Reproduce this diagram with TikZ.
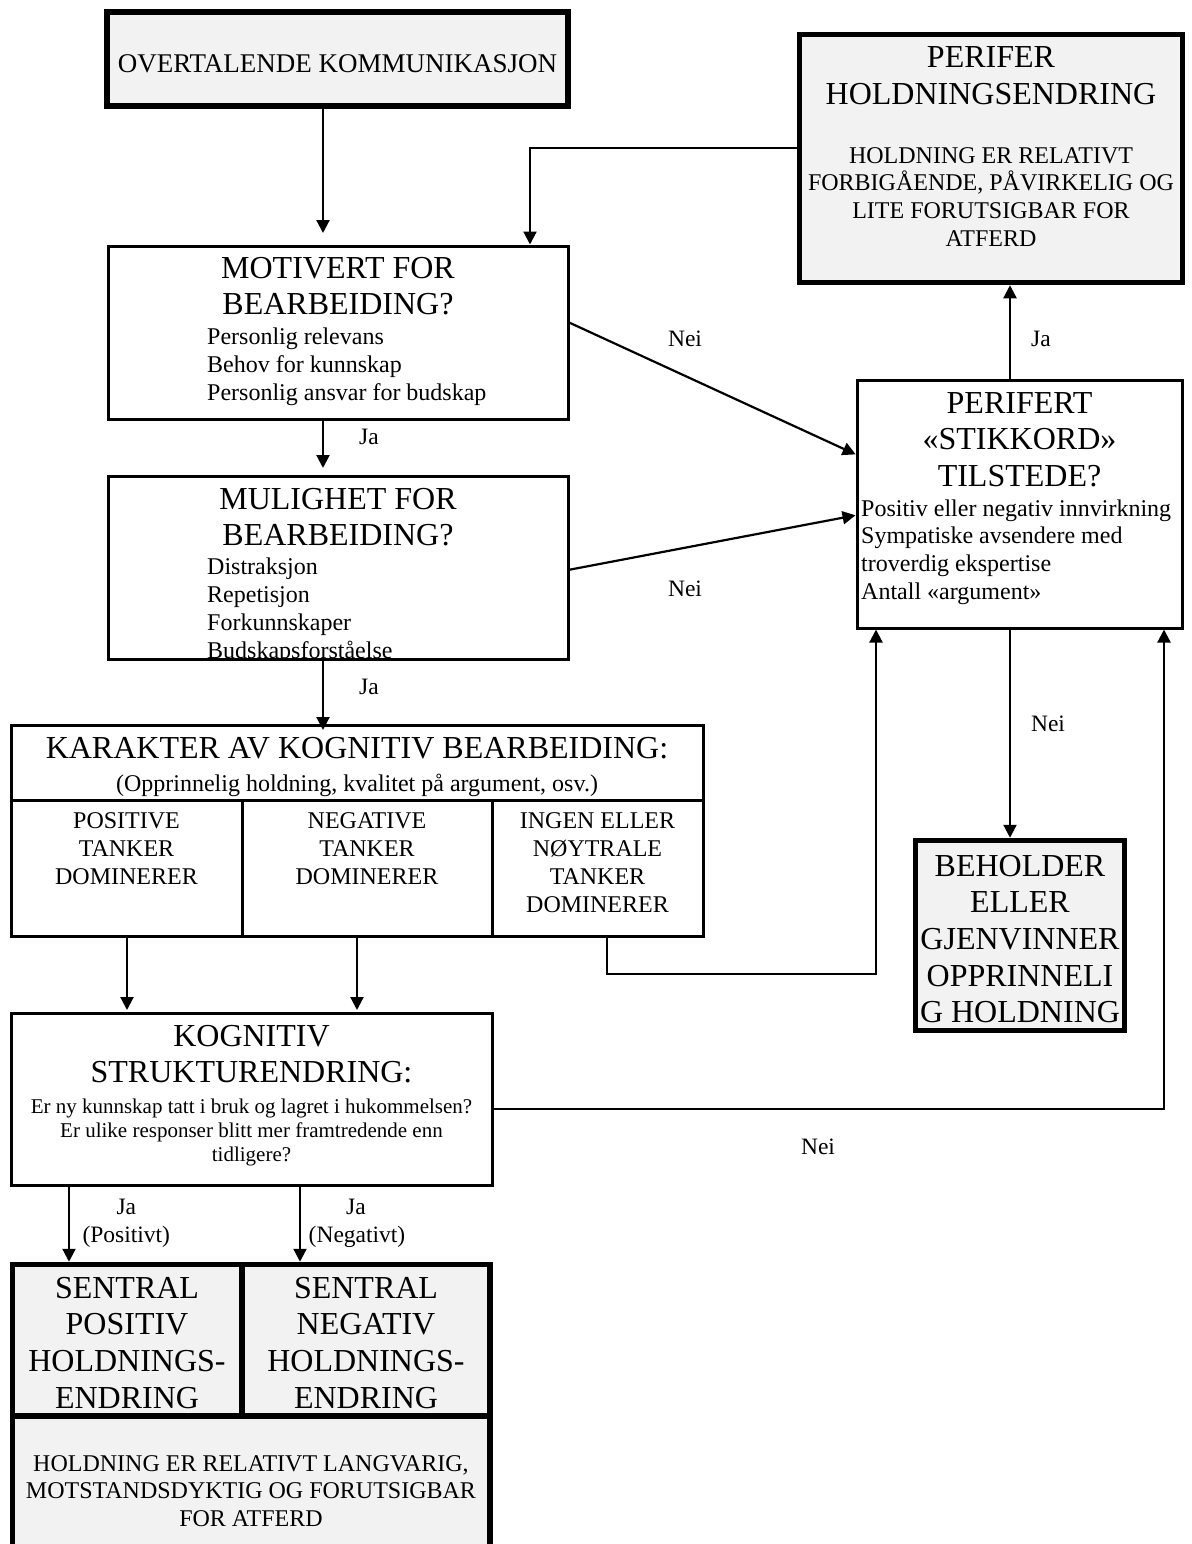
\documentclass[tikz,border=0pt]{standalone}
\usepackage{fontspec}
\setmainfont{Liberation Serif}
\usetikzlibrary{arrows.meta}
\definecolor{boxgray}{HTML}{F2F2F2}
\newcommand\textlines[6]{%
  \foreach \tl [count=\ii] in {#6} {\node[#5] (#1\ii) at (#2, {#3+(\ii-1)*#4}) {\tl};}}
\begin{document}
\begin{tikzpicture}[x=1pt,y=-1pt,
  thinbox/.style={draw, line width=3pt, inner sep=0pt, outer sep=0pt, anchor=north west},
  thickbox/.style={draw, line width=5.5pt, fill=boxgray, inner sep=0pt, outer sep=0pt, anchor=north west},
  arr/.style={line width=2.2pt, -{Triangle[length=13pt,width=13pt]}},
  con/.style={line width=2.2pt},
  divl/.style={line width=3pt},
  divt/.style={line width=5.5pt},
  bigc/.style={font=\fontsize{32}{36}\selectfont, inner sep=0pt, anchor=base},
  medc/.style={font=\fontsize{24}{28}\selectfont, inner sep=0pt, anchor=base},
  medl/.style={font=\fontsize{24}{28}\selectfont, inner sep=0pt, anchor=base west},
  smc/.style={font=\fontsize{21}{24}\selectfont, inner sep=0pt, anchor=base},
  ovrc/.style={font=\fontsize{27}{30}\selectfont, inner sep=0pt, anchor=base},
  lab/.style={font=\fontsize{23.5}{28}\selectfont, inner sep=0pt, anchor=base}]
\useasboundingbox (0,0) rectangle (1191,1544);

% ---------- boxes ----------
\node[thickbox, minimum width=461pt, minimum height=94pt] (ovr) at (107,12) {};
\node[thinbox, minimum width=460pt, minimum height=173pt] (mot) at (108,246) {};
\node[thinbox, minimum width=460pt, minimum height=183pt] (mul) at (108,476) {};
\node[thickbox, minimum width=383pt, minimum height=248pt] (per) at (799.5,34.5) {};
\node[thinbox, minimum width=325pt, minimum height=248pt] (pft) at (857,380) {};
\node[thickbox, minimum width=209pt, minimum height=190pt] (beh) at (915.5,840.5) {};
\node[thinbox, minimum width=692pt, minimum height=211pt] (kar) at (11,725) {};
\node[thinbox, minimum width=481pt, minimum height=172pt] (kog) at (11,1013) {};
\node[thickbox, minimum width=477.5pt, minimum height=138.5pt] (senB) at (12.5,1416) {};
\node[thickbox, minimum width=229.5pt, minimum height=151.5pt] (senP) at (12.5,1264.5) {};
\node[thickbox, minimum width=248pt, minimum height=151.5pt] (senN) at (242,1264.5) {};

% KARAKTER dividers
\coordinate (kd1) at (242,800);
\coordinate (kd2) at (492,800);
\draw[divl] (kd1 -| kar.west) -- (kd1 -| kar.east);
\draw[divl] (kd1) -- (kd1 |- kar.south);
\draw[divl] (kd2) -- (kd2 |- kar.south);

% ---------- texts ----------
\node[ovrc] (ovrT) at (337.5,73) {OVERTALENDE KOMMUNIKASJON};

\textlines{motT}{338}{278}{36.5}{bigc}{MOTIVERT FOR, BEARBEIDING?}
\textlines{motI}{207}{344}{28}{medl}{Personlig relevans, Behov for kunnskap, Personlig ansvar for budskap}

\textlines{mulT}{338}{509}{36.5}{bigc}{MULIGHET FOR, BEARBEIDING?}
\begin{scope}
\clip (108,476) rectangle (568,657.5);
\textlines{mulI}{207}{574}{28}{medl}{Distraksjon, Repetisjon, Forkunnskaper, Budskapsforståelse}
\end{scope}

\textlines{perT}{991}{68}{36.5}{bigc}{PERIFER, HOLDNINGSENDRING}
\textlines{perB}{991}{163}{27.7}{medc}{HOLDNING ER RELATIVT, {FORBIGÅENDE, PÅVIRKELIG OG}, LITE FORUTSIGBAR FOR, ATFERD}

\textlines{pftT}{1019.5}{413}{36.5}{bigc}{PERIFERT, «STIKKORD», TILSTEDE?}
\textlines{pftI}{861}{516}{27.7}{medl}{Positiv eller negativ innvirkning, Sympatiske avsendere med, troverdig ekspertise, Antall «argument»}

\textlines{behT}{1020}{876}{36.7}{bigc}{BEHOLDER, ELLER, GJENVINNER, OPPRINNELI, G HOLDNING}

\node[bigc] (karT) at (357,758) {KARAKTER AV KOGNITIV BEARBEIDING:};
\node[medc] (karS) at (357,791) {(Opprinnelig holdning, kvalitet på argument, osv.)};
\textlines{kc1}{126.5}{828}{28.3}{medc}{POSITIVE, TANKER, DOMINERER}
\textlines{kc2}{367}{828}{28.3}{medc}{NEGATIVE, TANKER, DOMINERER}
\textlines{kc3}{597.5}{828}{28.3}{medc}{INGEN ELLER, NØYTRALE, TANKER, DOMINERER}

\textlines{kogT}{251.5}{1046}{36.7}{bigc}{KOGNITIV, STRUKTURENDRING:}
\textlines{kogB}{251.5}{1113}{24}{smc}{Er ny kunnskap tatt i bruk og lagret i hukommelsen?, Er ulike responser blitt mer framtredende enn, tidligere?}

\textlines{senPT}{127}{1298}{36.7}{bigc}{SENTRAL, POSITIV, HOLDNINGS-, ENDRING}
\textlines{senNT}{366}{1298}{36.7}{bigc}{SENTRAL, NEGATIV, HOLDNINGS-, ENDRING}
\textlines{senBT}{251}{1471}{27.5}{medc}{{HOLDNING ER RELATIVT LANGVARIG,}, MOTSTANDSDYKTIG OG FORUTSIGBAR, FOR ATFERD}

% ---------- connectors ----------
\coordinate (cx1) at (323,0);
\draw[arr, shorten >=13pt] (ovr.south -| cx1) -- (mot.north -| cx1);
\coordinate (fb) at (530,148);
\draw[arr, shorten >=1.5pt] (fb -| per.west) -- (fb) -- (fb |- mot.north);
\draw[arr, shorten >=8pt] (mot.south -| cx1) -- (mul.north -| cx1);
\draw[arr, shorten >=-5pt] (mul.south -| cx1) -- (kar.north -| cx1);

\coordinate (n1s) at (569,322);
\coordinate (n1e) at (856,455);
\draw[arr, shorten >=1.5pt] (n1s -| mot.east) -- (n1e -| pft.west);
\coordinate (n2s) at (569,570);
\coordinate (n2e) at (856,515);
\draw[arr, shorten >=1.5pt] (n2s -| mul.east) -- (n2e -| pft.west);

\coordinate (cx2) at (1010,0);
\draw[arr, shorten >=2.75pt] (pft.north -| cx2) -- (per.south -| cx2);
\draw[arr, shorten >=2.75pt] (pft.south -| cx2) -- (beh.north -| cx2);

\coordinate (ing) at (607,974);
\coordinate (upl) at (876,974);
\draw[arr, shorten >=1.5pt] (ing |- kar.south) -- (ing) -- (upl) -- (upl |- pft.south);

\coordinate (cx3) at (127,0);
\coordinate (cx4) at (357,0);
\draw[arr, shorten >=3pt] (kar.south -| cx3) -- (kog.north -| cx3);
\draw[arr, shorten >=3pt] (kar.south -| cx4) -- (kog.north -| cx4);

\coordinate (kr) at (1164,1109);
\draw[arr, shorten >=1.5pt] (kr -| kog.east) -- (kr) -- (kr |- pft.south);

\coordinate (cx5) at (69,0);
\coordinate (cx6) at (300,0);
\draw[arr, shorten >=2.75pt] (kog.south -| cx5) -- (senP.north -| cx5);
\draw[arr, shorten >=2.75pt] (kog.south -| cx6) -- (senN.north -| cx6);

% ---------- labels ----------
\node[lab] (ja1) at (369,444) {Ja};
\node[lab] (ja2) at (369,694) {Ja};
\node[lab] (nei1) at (685,346) {Nei};
\node[lab] (nei2) at (685,596) {Nei};
\node[lab] (ja3) at (1041,346) {Ja};
\node[lab] (nei3) at (1048,731) {Nei};
\node[lab] (nei4) at (818,1154) {Nei};
\node[lab] (ja4) at (126.3,1214) {Ja};
\node[lab] (pos) at (126.3,1242) {(Positivt)};
\node[lab] (ja5) at (356,1214) {Ja};
\node[lab] (neg) at (357,1242) {(Negativt)};
\end{tikzpicture}
\end{document}
